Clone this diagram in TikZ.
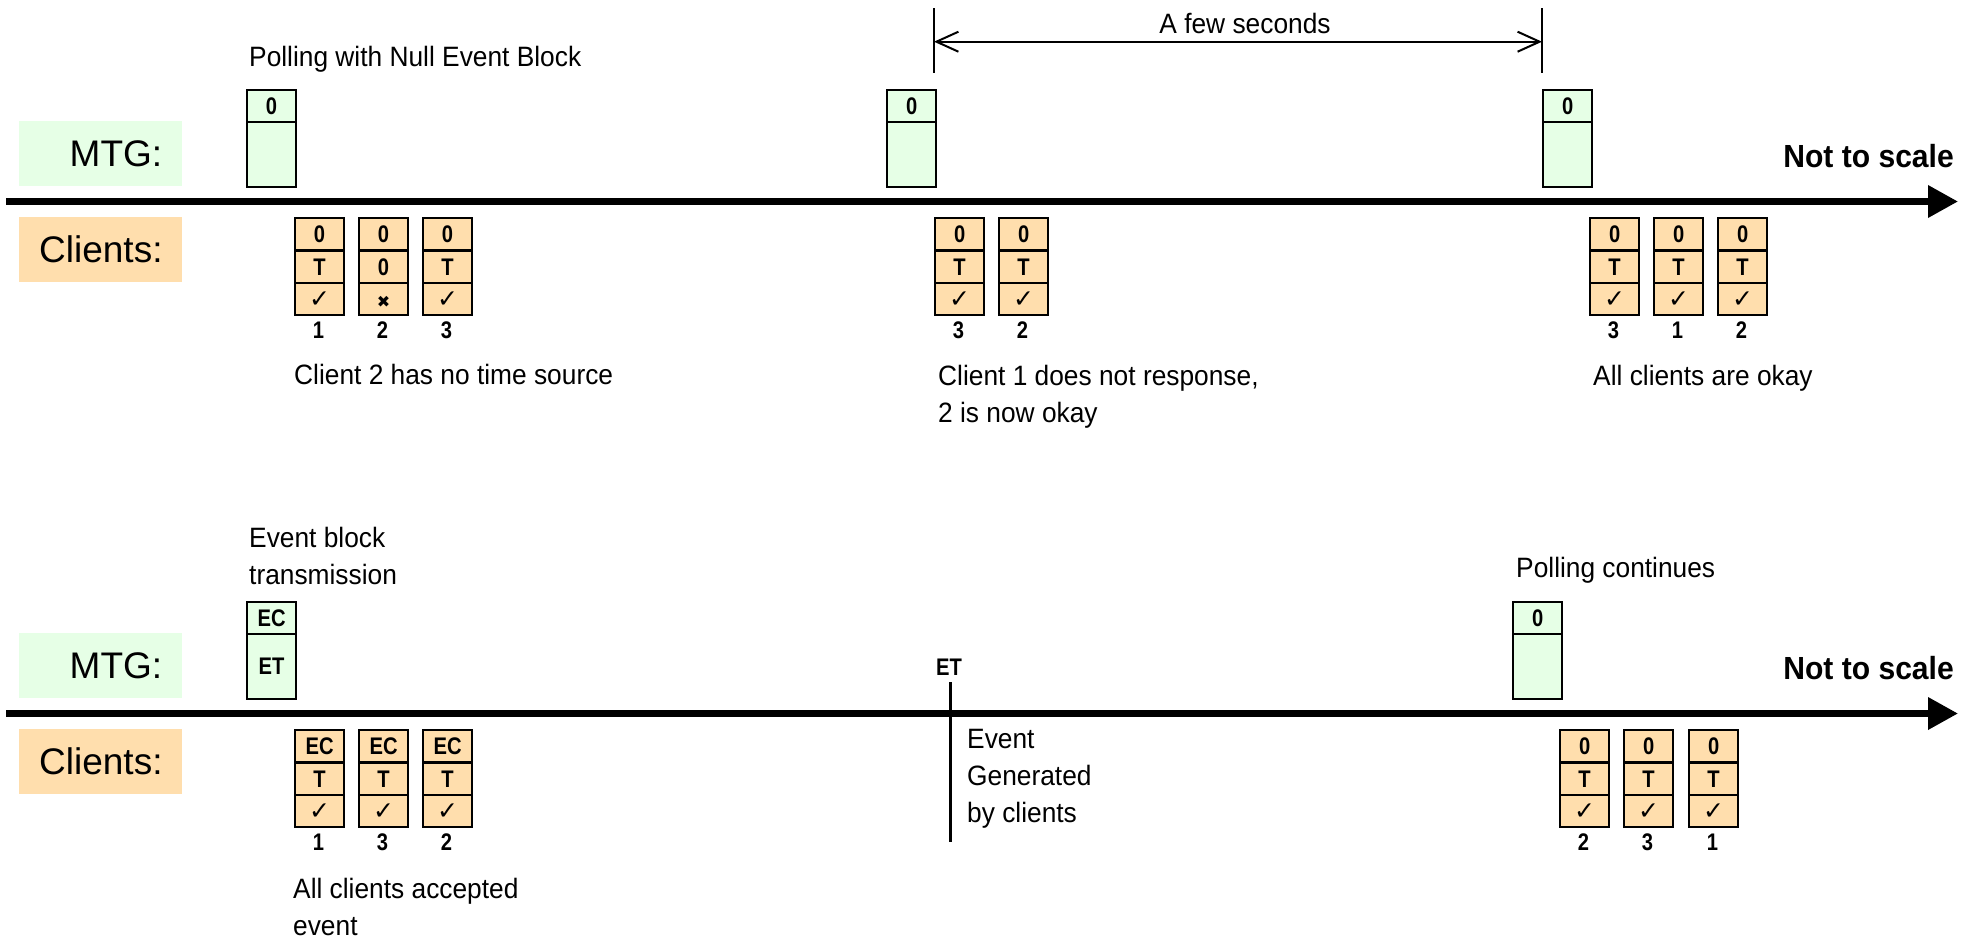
\documentclass[tikz,border=0pt]{standalone}
\usepackage{fontspec}
\setmainfont{Liberation Sans}
\newfontfamily\narrowfont[FakeStretch=0.94]{Liberation Sans}
\newfontfamily\cellfam[FakeStretch=0.84]{Liberation Sans}
\newfontfamily\symfont{DejaVu Sans}
\usetikzlibrary{arrows.meta}
\definecolor{mtggreen}{RGB}{230,255,230}
\definecolor{clorange}{RGB}{255,222,173}

\newcommand{\mylines}[1]{\begin{tabular}[t]{@{}l@{}}#1\end{tabular}}
\newcommand{\ck}{{\symfont\fontsize{25}{28}\selectfont ✓}}
\newcommand{\xm}{{\symfont\fontsize{16}{18}\selectfont ✖}}

\tikzset{
  cellfont/.style={font=\cellfam\bfseries\fontsize{24}{28}\selectfont},
  cell/.style={draw, line width=2.2pt, minimum width=49pt, inner sep=0pt, anchor=north west, cellfont, text height=17pt, text depth=0pt},
  ccell/.style={cell, fill=clorange, minimum height=32.33pt},
  mcell/.style={cell, fill=mtggreen},
  num/.style={cellfont, anchor=base, inner sep=0pt},
  txt/.style={font=\narrowfont\fontsize{28}{37}\selectfont, inner sep=0pt, anchor=base west},
  lblbox/.style={minimum width=163pt, minimum height=65pt, text width=123pt, align=right, inner xsep=0pt, anchor=north west, font=\fontsize{37}{44}\selectfont},
  timeline/.style={line width=6.7pt, -{Triangle[length=30pt,width=31pt]}},
  dimline/.style={line width=2pt},
  dimarrow/.style={line width=2pt, {Straight Barb[length=22pt,width=20pt]}-{Straight Barb[length=22pt,width=20pt]}},
  scalenote/.style={font=\narrowfont\bfseries\fontsize{32}{38}\selectfont, inner sep=0pt, anchor=base east},
}

\newcommand{\clientblk}[7]{%
  \node[ccell] (#1a) at (#2,#3) {#4};
  \node[ccell] (#1b) at (#2,#3+32.33) {#5};
  \node[ccell] (#1c) at (#2,#3+64.67) {#6};
  \node[num] (#1n) at (#2+24.5,#3+121) {#7};
}
\newcommand{\mtgblk}[5]{%
  \node[mcell, minimum height=32pt] (#1a) at (#2,#3) {#4};
  \node[mcell, minimum height=64.5pt] (#1b) at (#2,#3+32) {#5};
}

\begin{document}
\begin{tikzpicture}[x=1pt,y=-1pt]
\useasboundingbox (0,0) rectangle (1970,940);

% label boxes
\node[lblbox, fill=mtggreen] (mtgl1) at (19,121) {MTG:};
\node[lblbox, fill=clorange] (cll1) at (19,217) {Clients:};
\node[lblbox, fill=mtggreen] (mtgl2) at (19,633) {MTG:};
\node[lblbox, fill=clorange] (cll2) at (19,729) {Clients:};

% timelines
\coordinate (tl1s) at (6,201.5);
\coordinate (tl1e) at (1958,201.5);
\coordinate (tl2s) at (6,713.5);
\coordinate (tl2e) at (1958,713.5);
\draw[timeline] (tl1s) -- (tl1e);
\draw[timeline] (tl2s) -- (tl2e);

% MTG blocks
\mtgblk{m1}{246}{89}{0}{}
\mtgblk{m2}{886}{89}{0}{}
\mtgblk{m3}{1542}{89}{0}{}
\mtgblk{m4}{246}{601}{EC}{ET}
\mtgblk{m5}{1512}{601}{0}{}

% client blocks top
\clientblk{c1}{294}{217}{0}{T}{\ck}{1}
\clientblk{c2}{358}{217}{0}{0}{\xm}{2}
\clientblk{c3}{422}{217}{0}{T}{\ck}{3}
\clientblk{c4}{934}{217}{0}{T}{\ck}{3}
\clientblk{c5}{998}{217}{0}{T}{\ck}{2}
\clientblk{c6}{1589}{217}{0}{T}{\ck}{3}
\clientblk{c7}{1653}{217}{0}{T}{\ck}{1}
\clientblk{c8}{1717}{217}{0}{T}{\ck}{2}
% client blocks bottom
\clientblk{d1}{294}{729}{EC}{T}{\ck}{1}
\clientblk{d2}{358}{729}{EC}{T}{\ck}{3}
\clientblk{d3}{422}{729}{EC}{T}{\ck}{2}
\clientblk{d4}{1559}{729}{0}{T}{\ck}{2}
\clientblk{d5}{1623}{729}{0}{T}{\ck}{3}
\clientblk{d6}{1688}{729}{0}{T}{\ck}{1}

% dimension
\coordinate (dl1) at (934,8);
\coordinate (dl2) at (934,73);
\coordinate (dr1) at (1542,8);
\coordinate (dr2) at (1542,73);
\coordinate (da) at (934,41.7);
\coordinate (db) at (1542,41.7);
\draw[dimline] (dl1) -- (dl2);
\draw[dimline] (dr1) -- (dr2);
\draw[dimarrow] (da) -- (db);
\node[txt, anchor=base] (few) at (1245,33) {A few seconds};

% texts
\node[txt] (t1) at (249,66) {Polling with Null Event Block};
\node[txt] (t2) at (294,384) {Client 2 has no time source};
\node[txt] (t3) at (938,385) {\mylines{Client 1 does not response,\\2 is now okay}};
\node[txt] (t4) at (1593,385) {All clients are okay};
\node[txt] (t5) at (249,547) {\mylines{Event block\\transmission}};
\node[txt] (t6) at (293,898) {\mylines{All clients accepted\\event}};
\node[txt] (t7) at (1516,577) {Polling continues};
\node[txt] (t8) at (967,748) {\mylines{Event\\Generated\\by clients}};
\node[scalenote] (n1) at (1954,167) {Not to scale};
\node[scalenote] (n2) at (1954,679) {Not to scale};

% ET marker
\node[num] (etl) at (949,675) {ET};
\coordinate (etTop) at (950,682);
\coordinate (etBot) at (950,842);
\draw[line width=3pt] (etTop) -- (etBot);
\end{tikzpicture}
\end{document}
